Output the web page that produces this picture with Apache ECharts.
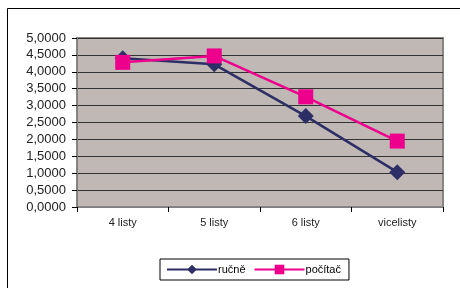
<!DOCTYPE html>
<html><head><meta charset="utf-8">
<script src="https://cdn.jsdelivr.net/npm/echarts@6/dist/echarts.min.js"></script>
<style>html,body{margin:0;padding:0;background:#fff}#c{width:460px;height:288px}</style>
</head><body><div id="c"></div>
<script>
const categories = ['4 listy', '5 listy', '6 listy', 'vicelisty'];
const rucne = [4.40, 4.22, 2.69, 1.03];
const pocitac = [4.28, 4.47, 3.26, 1.95];
const seriesNames = ['ručně', 'počítač'];

const chart = echarts.init(document.getElementById('c'), null, {renderer: 'canvas'});
chart.setOption({
  animation: false,
  backgroundColor: '#fff',
  textStyle: {fontFamily: 'Liberation Sans, Arial, sans-serif'},
  graphic: [{
    type: 'rect', left: 5, top: 6, shape: {width: 470, height: 300},
    style: {fill: 'none', stroke: '#000', lineWidth: 1}, silent: true, z: -1
  }],
  grid: {left: 77, right: 17, top: 38, bottom: 81, show: true,
    backgroundColor: '#C0B8B4', borderColor: '#8A8482', borderWidth: 2},
  legend: {
    left: 160, top: 259, width: 198, height: 25,
    orient: 'horizontal', padding: [5, 8, 5, 6],
    borderColor: '#000', borderWidth: 1, itemGap: 8,
    itemWidth: 50, itemHeight: 12,
    textStyle: {fontSize: 11, color: '#000', padding: [0, 0, 0, -4]},
    data: seriesNames
  },
  xAxis: {
    type: 'category', data: categories, boundaryGap: true,
    axisLine: {lineStyle: {color: '#808080', width: 1}},
    axisTick: {show: true, length: 5, lineStyle: {color: '#000'}},
    axisLabel: {fontSize: 11, color: '#222', margin: 10}
  },
  yAxis: {
    type: 'value', min: 0, max: 5, interval: 0.5,
    axisLine: {show: true, lineStyle: {color: '#808080', width: 1}},
    axisTick: {show: true, length: 5, lineStyle: {color: '#000'}},
    axisLabel: {fontSize: 13, color: '#222', margin: 11,
      formatter: v => v.toFixed(4).replace('.', ',')},
    splitLine: {show: true, lineStyle: {color: '#333', width: 1}}
  },
  series: [{
    name: seriesNames[0], type: 'line', data: rucne,
    symbol: 'diamond', symbolSize: 16,
    lineStyle: {color: '#2E2E66', width: 2.5},
    itemStyle: {color: '#2E2E66'}, z: 2
  }, {
    name: seriesNames[1], type: 'line', data: pocitac,
    symbol: 'rect', symbolSize: 15,
    lineStyle: {color: '#EC008C', width: 2.5},
    itemStyle: {color: '#EC008C'}, z: 3
  }]
});
</script></body></html>
